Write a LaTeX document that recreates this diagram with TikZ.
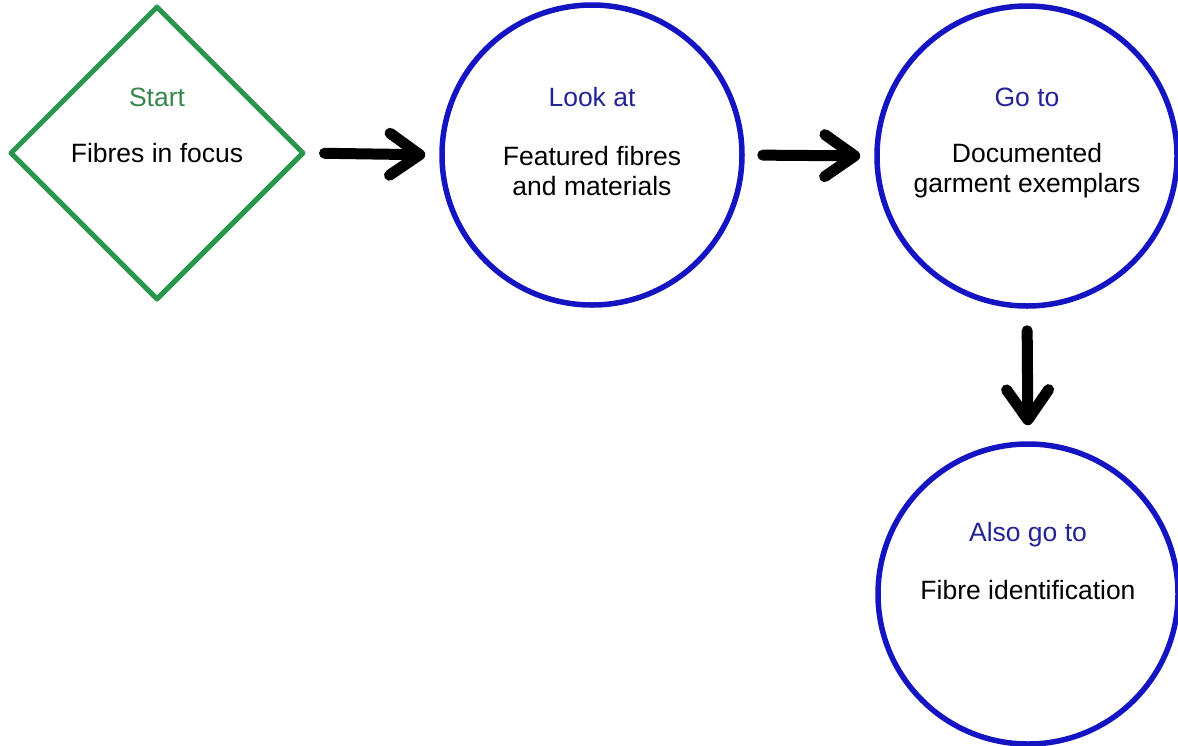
\documentclass[tikz,border=0pt]{standalone}
\usepackage{fontspec}
\setmainfont{Liberation Sans}
\usetikzlibrary{shapes.geometric,arrows.meta}
\definecolor{startgreen}{RGB}{40,150,75}
\definecolor{starttext}{RGB}{55,135,75}
\definecolor{ringblue}{RGB}{20,20,195}
\definecolor{headblue}{RGB}{35,35,150}
\begin{document}
\begin{tikzpicture}[x=1pt,y=-1pt,
  startbox/.style={draw=startgreen,line width=5pt,diamond,minimum width=294pt,minimum height=294pt,inner sep=0pt,line join=round},
  ringbox/.style={draw=ringblue,line width=5.5pt,circle,minimum size=300pt,inner sep=0pt},
  headtxt/.style={font=\fontsize{26.5}{32}\selectfont},
  bodytxt/.style={font=\fontsize{26.5}{30}\selectfont,align=center,text=black},
  flow/.style={draw=black,line width=11pt,line cap=round,
    -{Straight Barb[length=30pt,width=42pt,line cap=round,line join=round]}}
]
\useasboundingbox (0,0) rectangle (1178,745);
\node[startbox] (start) at (157,153) {};
\node[ringbox] (look) at (592,155) {};
\node[ringbox] (goto) at (1027,156) {};
\node[ringbox] (also) at (1028,594) {};
% texts
\node[headtxt,text=starttext] (t1) at (157,97) {Start};
\node[bodytxt] (b1) at (157,153) {Fibres in focus};
\node[headtxt,text=headblue] (t2) at (592,97) {Look at};
\node[bodytxt] (b2) at (592,171) {Featured fibres\\and materials};
\node[headtxt,text=headblue] (t3) at (1027,97) {Go to};
\node[bodytxt] (b3) at (1027,171) {Documented\\garment exemplars};
\node[headtxt,text=headblue] (t4) at (1028,535) {Also go to};
\node[bodytxt] (b4) at (1028,590) {Fibre identification};
% connectors
\draw[flow,shorten <=18pt,shorten >=14pt] (start.east) -- (look.west);
\draw[flow,shorten <=18pt,shorten >=14pt] (look.east) -- (goto.west);
\draw[flow,shorten <=22pt,shorten >=16pt] (goto.south) -- (also.north);
\end{tikzpicture}
\end{document}
